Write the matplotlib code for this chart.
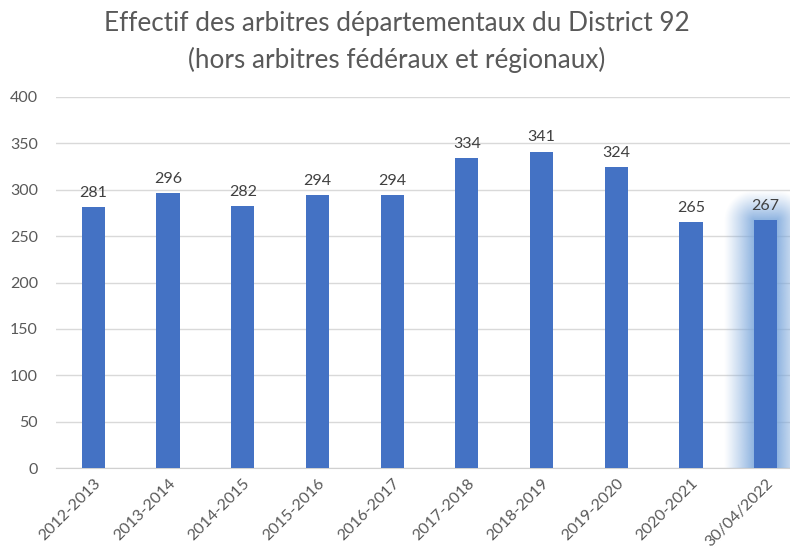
import numpy as np
import matplotlib.pyplot as plt

# data
saisons = ["2012-2013", "2013-2014", "2014-2015", "2015-2016", "2016-2017",
           "2017-2018", "2018-2019", "2019-2020", "2020-2021", "30/04/2022"]
effectif = [281, 296, 282, 294, 294, 334, 341, 324, 265, 267]
y_ticks = [0, 50, 100, 150, 200, 250, 300, 350, 400]

bar_color = "#4472C4"
text_gray = "#595959"
plt.rcParams['font.family'] = ['Lato', 'DejaVu Sans']

fig = plt.figure(figsize=(7.9, 5.5), dpi=100)
# plot area runs a bit past the right edge, as in the reference
ax = fig.add_axes([56 / 790, (550 - 468) / 550, 747 / 790, 371 / 550])

x = np.arange(len(saisons))
w = 0.31
ax.bar(x, effectif, width=w, color=bar_color, zorder=3)

# soft glow around the last bar (distance field -> alpha image)
px_x = 1 / 74.7      # data units per pixel, x
px_y = 50 / 46.4     # data units per pixel, y
last = len(saisons) - 1
reach = 34
x0 = x[last] - w / 2 - reach * px_x
x1 = x[last] + w / 2 + reach * px_x
y1 = effectif[last] + reach * px_y
gx = np.linspace(x0, x1, 200)
gy = np.linspace(0, y1, 300)
GX, GY = np.meshgrid(gx, gy)
dx = np.maximum(np.abs(GX - x[last]) - w / 2, 0) / px_x
dy = np.maximum(GY - effectif[last], 0) / px_y
d = np.hypot(dx, dy)
alpha = np.clip(1 - d / 30, 0, 1) ** 1.1 * 0.85
rgba = np.zeros(GX.shape + (4,))
rgba[..., 0] = 0x7A / 255
rgba[..., 1] = 0xA6 / 255
rgba[..., 2] = 0xDB / 255
rgba[..., 3] = alpha
ax.imshow(rgba, extent=[x0, x1, 0, y1], origin="lower", aspect="auto",
          interpolation="bilinear", zorder=2)

for xi, v in zip(x, effectif):
    ax.text(xi, v + 8, str(v), ha="center", va="bottom", fontsize=11.5,
            color="#404040", zorder=4)

ax.set_xlim(-0.5, len(saisons) - 0.5)
ax.set_ylim(0, 400)
ax.set_yticks(y_ticks)
ax.set_yticklabels([str(t) for t in y_ticks], fontsize=11.5, color=text_gray)
ax.set_xticks(x)
ax.set_xticklabels(saisons, rotation=45, ha="right", rotation_mode="anchor",
                   fontsize=11.5, color=text_gray)
ax.tick_params(axis="both", length=0)
ax.tick_params(axis="y", pad=13)
ax.tick_params(axis="x", pad=6)
ax.grid(axis="y", color="#D9D9D9", lw=1, zorder=0)
for s in ["top", "right", "left"]:
    ax.spines[s].set_visible(False)
ax.spines["bottom"].set_color("#D0D0D0")

fig.text(397 / 790, 1 - 24 / 550, "Effectif des arbitres départementaux du District 92",
         ha="center", va="center", fontsize=18.8, color=text_gray)
fig.text(397 / 790, 1 - 60 / 550, "(hors arbitres fédéraux et régionaux)",
         ha="center", va="center", fontsize=18.8, color=text_gray)

fig.savefig("out.png", dpi=100)
